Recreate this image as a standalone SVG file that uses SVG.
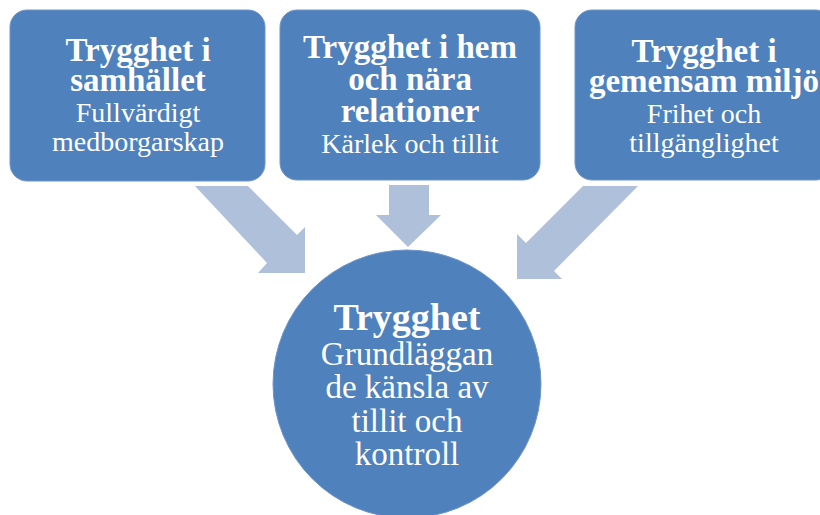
<svg xmlns="http://www.w3.org/2000/svg" width="820" height="515" viewBox="0 0 820 515">
<style>
.box{fill:#4F81BD;stroke:#6F95C8;stroke-width:1}
.arr{fill:#AFC0DA}
.t{font-family:"Liberation Serif","Times New Roman",serif;fill:#FFFFFF;text-anchor:middle}
.b{font-weight:bold;font-size:33px}
.r{font-size:28px}
.cb{font-weight:bold;font-size:38px}
.cr{font-size:33px}
</style>
<rect width="820" height="515" fill="#FFFFFF"/>
<g id="connectors">
<polygon class="arr" points="195,186 248,186 297,235 305,227 305,273 258,273 267,263"/>
<polygon class="arr" points="389,185 429,185 429,215 441,215 408,247 376,215 389,215"/>
<polygon class="arr" points="583,186 638,186 554,271 562,279 517,279 517,234 526,243"/>
</g>
<g id="node-samhallet">
<rect class="box" x="10" y="10" width="255" height="171" rx="17"/>
<text class="t b" x="138" y="61">Trygghet i</text>
<text class="t b" x="138" y="91">samhället</text>
<text class="t r" x="138" y="122">Fullvärdigt</text>
<text class="t r" x="138" y="151">medborgarskap</text>
</g>
<g id="node-hem">
<rect class="box" x="280" y="10" width="260" height="170" rx="17"/>
<text class="t b" x="410" y="58">Trygghet i hem</text>
<text class="t b" x="410" y="90">och nära</text>
<text class="t b" x="410" y="122">relationer</text>
<text class="t r" x="410" y="153">Kärlek och tillit</text>
</g>
<g id="node-miljo">
<rect class="box" x="575" y="10" width="258" height="170" rx="17"/>
<text class="t b" x="704" y="62">Trygghet i</text>
<text class="t b" x="704" y="92">gemensam miljö</text>
<text class="t r" x="704" y="123">Frihet och</text>
<text class="t r" x="704" y="152">tillgänglighet</text>
</g>
<g id="node-trygghet">
<circle class="box" cx="407" cy="384" r="134"/>
<text class="t cb" x="407" y="330">Trygghet</text>
<text class="t cr" x="407" y="365">Grundläggan</text>
<text class="t cr" x="407" y="398">de känsla av</text>
<text class="t cr" x="407" y="432">tillit och</text>
<text class="t cr" x="407" y="465">kontroll</text>
</g>
</svg>
